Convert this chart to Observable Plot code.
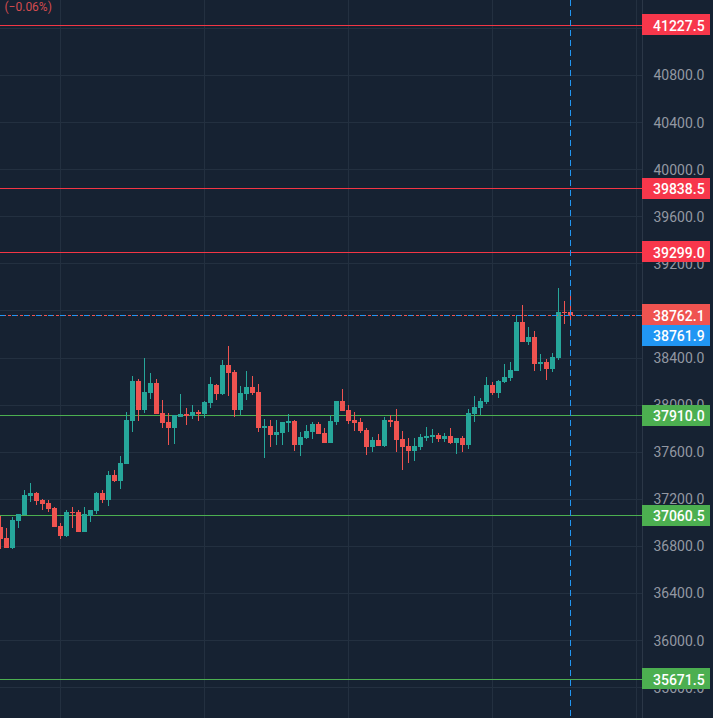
<!DOCTYPE html>
<html><head><meta charset="utf-8">
<script src="https://cdn.jsdelivr.net/npm/d3@7"></script>
<script src="https://cdn.jsdelivr.net/npm/@observablehq/plot@0.6"></script>
<style>html,body{margin:0;padding:0;background:#162232;overflow:hidden}svg{display:block}</style>
</head><body><div id="chart"></div>
<script>
const open = [36960,36867,36782,37011,37062,37224,37249,37190,37164,37122,36969,36884,37088,37088,36918,37054,37096,37249,37190,37402,37351,37495,37861,38200,37954,38099,38183,37929,37852,37801,37895,37920,37903,37937,37920,38014,38166,38090,38336,38277,37954,38090,38149,38107,37801,37818,37742,37759,37844,37861,37657,37716,37767,37835,37759,37674,37852,38031,37954,37869,37852,37784,37640,37699,37648,37869,37861,37708,37648,37606,37640,37716,37725,37742,37708,37733,37674,37716,37657,37920,37971,38022,38166,38098,38192,38226,38285,38702,38532,38574,38345,38362,38302,38396,38786,38786];
const high = [37056,36952,37045,37071,37275,37334,37258,37198,37190,37130,36994,37105,37130,37105,37130,37105,37258,37275,37436,37444,37563,37937,38243,38217,38396,38268,38217,38039,37929,37912,38090,37971,37997,37954,38031,38234,38175,38379,38498,38294,38158,38285,38243,38175,37878,37869,37869,37852,37920,37869,37767,37827,37852,37852,37801,37912,38031,38132,37997,37937,37886,37801,37725,37750,37895,37912,37963,37776,37716,37716,37750,37810,37793,37759,37759,37801,37716,37733,37963,38073,38056,38234,38192,38209,38345,38362,38753,38846,38659,38625,38430,38387,38438,38990,38880,38922];
const low = [36773,36782,36773,36952,37062,37173,37147,37105,37088,36960,36858,36875,36952,36918,36918,37003,37071,37164,37139,37342,37283,37495,37767,37861,37929,38048,37920,37801,37657,37665,37895,37827,37878,37861,37886,37971,38039,38082,38073,37895,37912,38039,38081,37767,37546,37640,37657,37657,37767,37606,37563,37708,37708,37750,37674,37674,37827,37946,37835,37776,37759,37572,37597,37648,37640,37810,37597,37444,37504,37521,37614,37691,37674,37682,37682,37665,37580,37597,37623,37852,37912,38005,38081,38056,38183,38200,38285,38532,38506,38285,38285,38209,38277,38379,38685,38719];
const close = [36858,36782,37020,37071,37232,37249,37181,37156,37113,36960,36884,37088,37079,36918,37071,37105,37249,37190,37402,37351,37504,37869,38200,37954,38107,38183,37920,37844,37801,37912,37920,37906,37937,37920,38022,38175,38090,38336,38268,37954,38098,38149,38098,37801,37818,37742,37767,37852,37861,37657,37725,37776,37835,37750,37674,37861,38031,37946,37861,37844,37776,37640,37699,37648,37869,37852,37699,37640,37606,37648,37725,37733,37742,37708,37733,37674,37716,37657,37929,37980,38030,38166,38098,38200,38234,38294,38702,38532,38574,38345,38362,38302,38404,38786,38778,38762.1];

const yTicks = [35600,36000,36400,36800,37200,37600,38000,38400,38800,39200,39600,40000,40400,40800,41200];
const gridSlots = [10,34,58,82,106];
const cursorSlot = 95;
const axisSlot = 107;

const redLevels = [41227.5,39838.5,39299.0];
const greenLevels = [37910.0,37060.5,35671.5];
const lastPrice = 38762.1;
const tags = [
  {shown:41227.5, at:41227.5, fill:"#f7374b"},
  {shown:39838.5, at:39838.5, fill:"#f7374b"},
  {shown:39299.0, at:39299.0, fill:"#f7374b"},
  {shown:38762.1, at:38762.1, fill:"#ef5350"},
  {shown:38761.9, at:38588, fill:"#2196f3"},
  {shown:37910.0, at:37910.0, fill:"#4caf50"},
  {shown:37060.5, at:37060.5, fill:"#4caf50"},
  {shown:35671.5, at:35671.5, fill:"#4caf50"}
];
const changeText = ["(\u22120.06%)"];

const candles = d3.range(open.length).map(i => ({i, o:open[i], h:high[i], l:low[i], c:close[i]}));
const up = d => d.c >= d.o;
const bg = "#162232", grid = "#233040", green = "#26a69a", red = "#ef5350";
const font = "Roboto, sans-serif";

const chart = Plot.plot({
  width:713, height:718,
  marginLeft:0, marginRight:71, marginTop:0, marginBottom:0,
  style:{background:bg, fontFamily:font},
  x:{type:"linear", domain:[-0.5/6, 641.5/6 + 0.5/6], range:[0,642], axis:null},
  y:{type:"linear", domain:[35337.5,41437.2], range:[718,0], axis:null},
  marks:[
    Plot.ruleY(yTicks,{stroke:grid, strokeWidth:1, shapeRendering:"crispEdges"}),
    Plot.ruleX(gridSlots,{stroke:grid, strokeWidth:1, dx:-0.5, shapeRendering:"crispEdges"}),
    Plot.ruleX([axisSlot],{stroke:"#2b3747", strokeWidth:1, dx:-0.5, shapeRendering:"crispEdges"}),
    Plot.axisY(yTicks,{anchor:"right", tickSize:0, tickPadding:11, textAnchor:"start", fill:"#9398a2", fontSize:14, dy:0.5, tickFormat:d=>d.toFixed(1), label:null}),
    Plot.ruleY(redLevels,{stroke:"#f23645", strokeWidth:1, shapeRendering:"crispEdges"}),
    Plot.ruleY(greenLevels,{stroke:"#4caf50", strokeWidth:1, shapeRendering:"crispEdges"}),
    Plot.ruleX(candles,{x:"i", y1:"l", y2:"h", stroke:d=>up(d)?green:red, strokeWidth:1, dx:-0.5, shapeRendering:"crispEdges"}),
    Plot.rect(candles,{x1:d=>d.i-5/12, x2:d=>d.i+5/12, y1:d=>Math.min(d.o,d.c)-3, y2:d=>Math.max(d.o,d.c)+3, fill:d=>up(d)?green:red, shapeRendering:"crispEdges"}),
    Plot.ruleY([lastPrice],{stroke:"#2196f3", strokeWidth:1, strokeDasharray:"5 7", shapeRendering:"crispEdges"}),
    Plot.ruleY([lastPrice],{stroke:red, strokeWidth:1, strokeDasharray:"0 5 1 2 3 1", shapeRendering:"crispEdges"}),
    Plot.ruleX([cursorSlot],{stroke:"#2196f3", strokeWidth:1, strokeDasharray:"6 4", dx:-0.5, shapeRendering:"crispEdges"}),
    Plot.rect(tags,{x1:axisSlot+1/12, x2:118.33, y1:d=>d.at-91, y2:d=>d.at+90, fill:"fill", shapeRendering:"crispEdges"}),
    Plot.text(tags,{x:axisSlot+1/12, y:"at", dx:10, dy:1, textAnchor:"start", text:d=>d.shown.toFixed(1), fill:"#ffffff", fontSize:14, fontWeight:500}),
    Plot.text(changeText,{frameAnchor:"top-left", dx:4, dy:2, text:d=>d, fill:"#d34b4f", fontSize:12})
  ]
});
document.getElementById("chart").append(chart);
</script></body></html>
